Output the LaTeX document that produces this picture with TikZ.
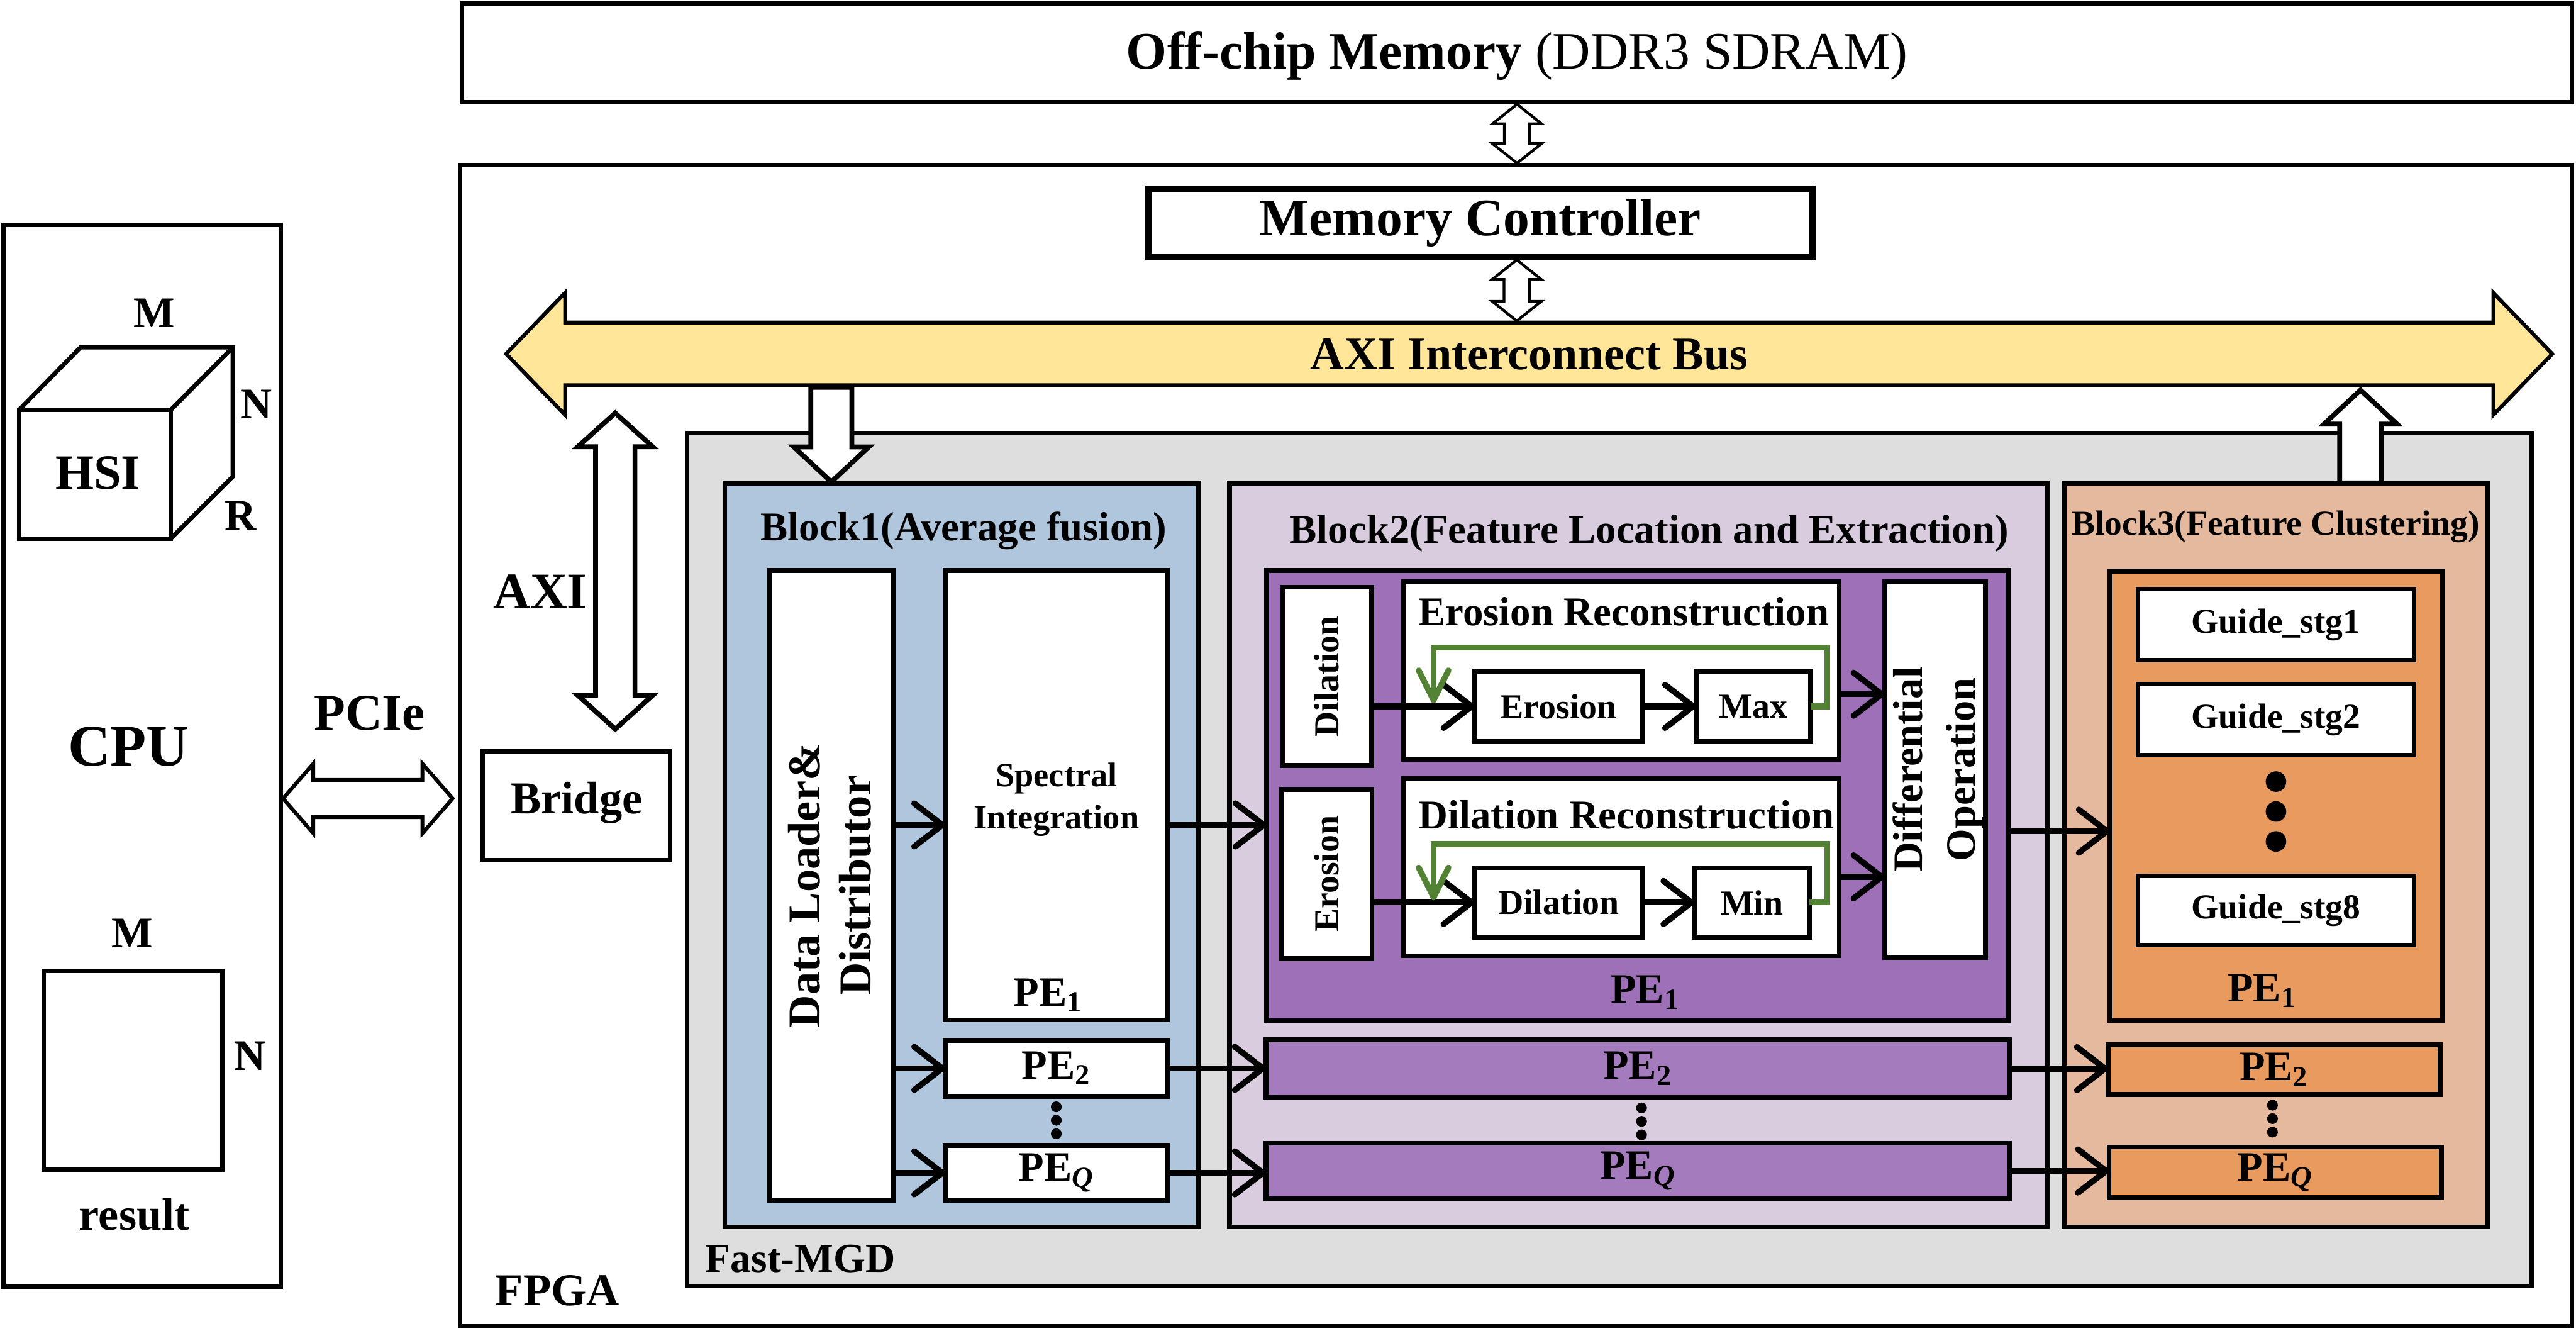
\documentclass[tikz,border=0pt]{standalone}
\usepackage{fontspec}
\setmainfont{Liberation Serif}
\usepackage{xcolor}
\usepackage{tikz}
\usetikzlibrary{arrows.meta,positioning,shapes.arrows,calc}

\definecolor{busyellow}{HTML}{FFE699}
\definecolor{mgdgray}{HTML}{DEDEDE}
\definecolor{blockblue}{HTML}{B0C6DD}
\definecolor{blockmauve}{HTML}{D9CCDF}
\definecolor{blockpeach}{HTML}{E4B99D}
\definecolor{pepurple}{HTML}{9E70B8}
\definecolor{pepurplelt}{HTML}{A47BBD}
\definecolor{peorange}{HTML}{E99B5F}
\definecolor{loopgreen}{HTML}{548235}

\begin{document}
\begin{tikzpicture}[
  box/.style={rectangle, draw, line width=0.09cm, fill=white, inner sep=0pt, outer sep=0pt, align=center},
  framebox/.style={box, line width=0.08cm},
  txt/.style={font=\fontsize{#1}{#1}\selectfont\bfseries, inner sep=0pt, outer sep=0pt, align=center},
  vdot/.style={circle, fill=black, inner sep=0pt, minimum size=0.2cm},
  bigdot/.style={circle, fill=black, inner sep=0pt, minimum size=0.38cm},
  arr/.style={-{Straight Barb[length=0.52cm,width=0.8cm,round]}, line width=0.11cm},
  looparr/.style={-{Straight Barb[length=0.55cm,width=0.55cm,round]}, line width=0.11cm, draw=loopgreen},
  fatlink/.style={double arrow, draw, fill=white, line width=0.05cm, inner xsep=0pt, outer sep=0pt, double arrow head indent=0pt},
  fatport/.style={single arrow, draw, fill=white, line width=0.09cm, inner xsep=0pt, outer sep=0pt, single arrow head indent=0pt}
]
\useasboundingbox (0,0) rectangle (47.69,-24.63);

% CPU side
\node[framebox, anchor=north west, minimum width=5.14cm, minimum height=19.66cm] (cpu) at (0.06,-4.16) {};
\node[txt=31] (cpulabel) at (2.38,-13.82) {CPU};
\node[framebox, anchor=north west, minimum width=2.81cm, minimum height=2.38cm] (hsi) at (0.35,-7.59) {};
\node[txt=26] (hsilabel) at ([xshift=0.06cm,yshift=0.02cm]hsi) {HSI};
\draw[line width=0.08cm] (hsi.north west) -- ++(1.14,1.16) -- ++(2.82,0) -- ++(0,-2.39) -- (hsi.south east);
\draw[line width=0.08cm] (hsi.north east) -- ++(1.15,1.16);
\node[txt=23] (cubem) at (2.86,-5.8) {M};
\node[txt=23] (cuben) at (4.74,-7.48) {N};
\node[txt=23] (cuber) at (4.45,-9.55) {R};
\node[framebox, anchor=north west, minimum width=3.31cm, minimum height=3.68cm] (result) at (0.81,-17.97) {};
\node[txt=23] (resm) at (2.45,-17.27) {M};
\node[txt=23] (resn) at (4.63,-19.55) {N};
\node[txt=24] (reslabel) at (2.49,-22.48) {result};

% Memory and FPGA frames
\node[framebox, anchor=north west, minimum width=39.07cm, minimum height=1.83cm] (offchip) at (8.55,-0.06) {};
\node[font=\fontsize{27.7}{27.7}\selectfont, inner sep=0pt] (offchiplabel) at ([yshift=-0.06cm]offchip) {{\bfseries Off-chip Memory} (DDR3 SDRAM)};
\node[framebox, anchor=north west, minimum width=39.1cm, minimum height=21.49cm] (fpga) at (8.52,-3.06) {};
\node[txt=24] (fpgalabel) at (10.32,-23.89) {FPGA};
\node[box, txt=27.7, line width=0.12cm, anchor=north west, minimum width=12.29cm, minimum height=1.27cm] (memctrl) at (21.26,-3.49) {Memory Controller};
\node[framebox, anchor=north west, minimum width=3.47cm, minimum height=2.01cm] (bridge) at (8.94,-13.91) {};
\node[txt=24] (bridgelabel) at ([yshift=0.06cm]bridge) {Bridge};

% Fast-MGD
\node[framebox, fill=mgdgray, anchor=north west, minimum width=34.15cm, minimum height=15.79cm] (mgd) at (12.72,-8.01) {};
\node[txt=21.7] (mgdlabel) at (14.82,-23.3) {Fast-MGD};

% Up port behind block 3
\node[fatport, rotate=90, anchor=tip, minimum height=1.72cm, inner ysep=0.34cm, single arrow head extend=0.29cm, single arrow tip angle=94] (portup) at (43.7,-7.22) {};

% Blocks
\node[box, fill=blockblue, anchor=north west, minimum width=8.77cm, minimum height=13.77cm] (block1) at (13.42,-8.94) {};
\node[box, fill=blockmauve, right=0.57cm of block1, minimum width=15.14cm, minimum height=13.77cm] (block2) {};
\node[box, fill=blockpeach, right=0.31cm of block2, minimum width=7.85cm, minimum height=13.77cm] (block3) {};
\node[txt=21.5] (block1label) at (17.84,-9.83) {Block1(Average fusion)};
\node[txt=21.5] (block2label) at (30.53,-9.87) {Block2(Feature Location and Extraction)};
\node[txt=18.4] (block3label) at (42.13,-9.75) {Block3(Feature Clustering)};

% Block 1
\node[box, anchor=north west, minimum width=2.28cm, minimum height=11.66cm] (loader) at ([xshift=0.83cm,yshift=-1.62cm]block1.north west) {};
\node[txt=24, rotate=90] (loaderlabel) at ([xshift=-0.03cm]loader) {Data Loader\&\\[3pt]Distributor};
\node[box, right=0.97cm of loader.north east, anchor=north west, minimum width=4.11cm, minimum height=8.32cm] (spectral) {};
\node[txt=18] (spectrallabel) at (19.56,-14.8) {Spectral\\[4pt]Integration};
\node[txt=22] (pe1wlabel) at ([xshift=-0.15cm,yshift=0.46cm]spectral.south) {PE\textsubscript{1}};
\node[box, txt=22, below=0.38cm of spectral, minimum width=4.11cm, minimum height=1.03cm] (pe2w) {PE\textsubscript{2}};
\node[box, txt=22, below=0.91cm of pe2w, minimum width=4.11cm, minimum height=1.02cm] (peqw) {PE\textsubscript{\textit{Q}}};
\node[vdot, below=0.09cm of pe2w] (dotw1) {};
\node[vdot, below=0.035cm of dotw1] (dotw2) {};
\node[vdot, below=0.035cm of dotw2] (dotw3) {};

% Block 2
\node[box, fill=pepurple, anchor=north west, minimum width=13.74cm, minimum height=8.33cm] (pe1m) at ([xshift=0.69cm,yshift=-1.62cm]block2.north west) {};
\node[txt=22] (pe1mlabel) at ([xshift=0.14cm,yshift=0.52cm]pe1m.south) {PE\textsubscript{1}};
\node[box, fill=pepurplelt, txt=22, below=0.36cm of pe1m, minimum width=13.77cm, minimum height=1.06cm] (pe2m) {PE\textsubscript{2}};
\node[box, fill=pepurplelt, txt=22, below=0.85cm of pe2m, minimum width=13.77cm, minimum height=1.03cm] (peqm) {PE\textsubscript{\textit{Q}}};
\node[vdot, below=0.09cm of pe2m, xshift=0.07cm] (dotm1) {};
\node[vdot, below=0.035cm of dotm1] (dotm2) {};
\node[vdot, below=0.035cm of dotm2] (dotm3) {};

\node[box, anchor=north west, minimum width=1.65cm, minimum height=3.3cm] (dilstage) at ([xshift=0.29cm,yshift=-0.31cm]pe1m.north west) {};
\node[txt=18.5, rotate=90] (dilstagelabel) at (dilstage) {Dilation};
\node[box, below=0.44cm of dilstage, minimum width=1.67cm, minimum height=3.13cm] (erostage) {};
\node[txt=18.5, rotate=90] (erostagelabel) at (erostage) {Erosion};

\node[box, anchor=north west, minimum width=8.06cm, minimum height=3.29cm] (recero) at (25.99,-10.77) {};
\node[box, below=0.35cm of recero, minimum width=8.06cm, minimum height=3.28cm] (recdil) {};
\node[txt=21.5] (receroLabel) at ([xshift=0.04cm,yshift=-0.55cm]recero.north) {Erosion Reconstruction};
\node[txt=21.5] (recdilLabel) at ([xshift=0.09cm,yshift=-0.67cm]recdil.north) {Dilation Reconstruction};

\node[box, txt=18.5, anchor=north west, minimum width=3.11cm, minimum height=1.31cm] (eroin) at ([xshift=1.31cm,yshift=-1.65cm]recero.north west) {Erosion};
\node[box, txt=18.5, right=0.99cm of eroin, minimum width=2.12cm, minimum height=1.31cm] (maxin) {Max};
\node[box, txt=18.5, anchor=north west, minimum width=3.11cm, minimum height=1.29cm] (dilin) at ([xshift=1.31cm,yshift=-1.65cm]recdil.north west) {Dilation};
\node[box, txt=18.5, right=0.96cm of dilin, minimum width=2.13cm, minimum height=1.29cm] (minin) {Min};

\node[box, right=0.84cm of recero.north east, anchor=north west, minimum width=1.87cm, minimum height=6.95cm] (diffop) {};
\node[txt=22, rotate=90] (diffoplabel) at ([xshift=0.06cm]diffop) {Differential\\[6pt]Operation};

% Block 3
\node[box, fill=peorange, anchor=north west, minimum width=6.16cm, minimum height=8.32cm] (pe1o) at ([xshift=0.85cm,yshift=-1.63cm]block3.north west) {};
\node[txt=22] (pe1olabel) at ([xshift=-0.26cm,yshift=0.55cm]pe1o.south) {PE\textsubscript{1}};
\node[box, fill=peorange, txt=22, below=0.45cm of pe1o, xshift=-0.04cm, minimum width=6.15cm, minimum height=0.92cm] (pe2o) {PE\textsubscript{2}};
\node[box, fill=peorange, txt=22, below=0.97cm of pe2o, xshift=0.02cm, minimum width=6.15cm, minimum height=0.94cm] (peqo) {PE\textsubscript{\textit{Q}}};
\node[vdot, below=0.09cm of pe2o, xshift=-0.03cm] (doto1) {};
\node[vdot, below=0.035cm of doto1] (doto2) {};
\node[vdot, below=0.035cm of doto2] (doto3) {};
\node[box, txt=18.4, line width=0.08cm, anchor=north west, minimum width=5.11cm, minimum height=1.32cm] (guide1) at ([xshift=0.52cm,yshift=-0.33cm]pe1o.north west) {Guide\_stg1};
\node[box, txt=18.4, line width=0.08cm, below=0.44cm of guide1, minimum width=5.11cm, minimum height=1.32cm] (guide2) {Guide\_stg2};
\node[bigdot, below=0.29cm of guide2] (guidedot1) {};
\node[bigdot, below=0.16cm of guidedot1] (guidedot2) {};
\node[bigdot, below=0.16cm of guidedot2] (guidedot3) {};
\node[box, txt=18.4, line width=0.08cm, below=2.23cm of guide2, minimum width=5.11cm, minimum height=1.28cm] (guide8) {Guide\_stg8};

% Bus
\node[double arrow, draw, fill=busyellow, line width=0.07cm, txt=24.6, inner xsep=0pt, inner ysep=0.11cm, text height=0.72cm, text depth=0.15cm, minimum height=37.88cm, double arrow head extend=0.55cm, double arrow head indent=0pt, double arrow tip angle=92] (bus) at (28.31,-6.55) {AXI Interconnect Bus};

% Wide links
\node[fatlink, rotate=90, minimum height=1.09cm, inner ysep=0.21cm, double arrow head extend=0.22cm, double arrow tip angle=103] (ddrlink) at ($(offchip.south)!0.5!(offchip.south |- fpga.north)$) {};
\node[fatlink, rotate=90, minimum height=1.13cm, inner ysep=0.21cm, double arrow head extend=0.22cm, double arrow tip angle=103] (buslink) at (28.08,-5.375) {};
\node[fatlink, line width=0.09cm, rotate=90, minimum height=5.85cm, inner ysep=0.32cm, double arrow head extend=0.33cm, double arrow tip angle=96] (axilink) at (11.39,-10.57) {};
\node[txt=27] (axilabel) at (10,-10.95) {AXI};
\node[fatlink, line width=0.07cm, minimum height=3.14cm, inner ysep=0.31cm, double arrow head extend=0.3cm, double arrow tip angle=98] (pcielink) at (6.81,-14.78) {};
\node[txt=27] (pcielabel) at (6.84,-13.2) {PCIe};
\node[fatport, rotate=-90, anchor=tip, minimum height=1.75cm, inner ysep=0.335cm, single arrow head extend=0.315cm, single arrow tip angle=94] (portdown) at (15.39,-8.92) {};

% Arrows
\draw[arr] ([yshift=-0.55cm]spectral.west -| loader.east) -- ([yshift=-0.55cm]spectral.west);
\draw[arr] (pe2w.west -| loader.east) -- (pe2w.west);
\draw[arr] (peqw.west -| loader.east) -- (peqw.west);
\draw[arr] ([yshift=-0.55cm]spectral.east) -- ([yshift=-0.55cm]spectral.east -| pe1m.west);
\draw[arr] (pe2w.east) -- (pe2w.east -| pe2m.west);
\draw[arr] (peqw.east) -- (peqw.east -| peqm.west);
\draw[arr] ([yshift=-0.66cm]pe1m.east) -- ([yshift=-0.66cm]pe1m.east -| pe1o.west);
\draw[arr] (pe2m.east) -- (pe2m.east -| pe2o.west);
\draw[arr] (peqm.east) -- (peqm.east -| peqo.west);
\draw[arr] (eroin.west -| dilstage.east) -- (eroin.west);
\draw[arr] (eroin) -- (maxin);
\draw[arr] (dilin.west -| erostage.east) -- (dilin.west);
\draw[arr] (dilin) -- (minin);
\draw[arr] ([yshift=-0.435cm]recero.east) -- ([yshift=-0.435cm]recero.east -| diffop.west);
\draw[arr] ([yshift=-0.18cm]recdil.east) -- ([yshift=-0.18cm]recdil.east -| diffop.west);

% Feedback loops
\draw[looparr] (maxin.east) -- ++(0.31,0) -- ++(0,1.09) -- ++(-7.29,0) -- ++(0,-1.03);
\draw[looparr] (minin.east) -- ++(0.33,0) -- ++(0,1.08) -- ++(-7.29,0) -- ++(0,-1.04);

\end{tikzpicture}
\end{document}
